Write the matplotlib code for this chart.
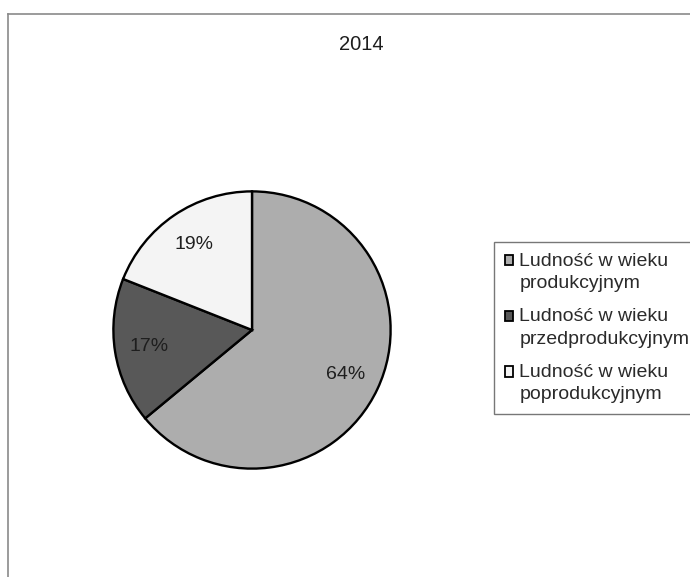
import matplotlib
matplotlib.use("Agg")
import matplotlib.pyplot as plt
from matplotlib.lines import Line2D

plt.rcParams['font.family'] = ['Liberation Sans', 'DejaVu Sans']

# data
title = "2014"
labels = ["Ludność w wieku\nprodukcyjnym",
          "Ludność w wieku\nprzedprodukcyjnym",
          "Ludność w wieku\npoprodukcyjnym"]
shares = [64, 17, 19]
colors = ["#adadad", "#585858", "#f4f4f4"]

W, H = 690, 577
fig = plt.figure(figsize=(W / 100, H / 100), dpi=100)

# chart frame (scanned, only top and left edges visible)
fig.add_artist(Line2D([8 / W, 1], [1 - 14 / H, 1 - 14 / H], color="#8a8a8a", lw=1.2))
fig.add_artist(Line2D([8 / W, 8 / W], [0, 1 - 14 / H], color="#8a8a8a", lw=1.2))

fig.text(361 / W, 1 - 44 / H, title, ha="center", va="center", fontsize=14.5, color="#1e1e1e")

# pie: centre ~ (252, 330) px, radius ~140 px
r = 140
cx, cy = 252, 330
ax = fig.add_axes([(cx - r) / W, (H - cy - r) / H, 2 * r / W, 2 * r / H])
wedges, texts, autotexts = ax.pie(
    shares, colors=colors, startangle=90, counterclock=False,
    autopct="%d%%", pctdistance=0.75,
    wedgeprops=dict(edgecolor="black", linewidth=1.7),
    textprops=dict(fontsize=14, color="#1e1e1e"))
ax.set_xlim(-1.01, 1.01)
ax.set_ylim(-1.01, 1.01)
ax.axis("off")

leg = fig.legend(wedges, labels, loc="upper left",
                 bbox_to_anchor=(494 / W, 1 - 242 / H),
                 fontsize=14, frameon=True, fancybox=False,
                 handlelength=0.45, handleheight=0.45, handletextpad=0.3,
                 labelspacing=0.85, borderpad=0.55, borderaxespad=0)
leg.get_frame().set_edgecolor("#555555")
leg.get_frame().set_linewidth(1.0)
for t in leg.get_texts():
    t.set_color("#2a2a2a")
    t.set_linespacing(1.4)
# squares sit beside the first line of each label
for p in leg.get_patches():
    p.set_edgecolor("black")
    p.set_linewidth(1.3)
    p.set_y(p.get_y() + 8.5)

fig.savefig("out.png", dpi=100, facecolor="white")
